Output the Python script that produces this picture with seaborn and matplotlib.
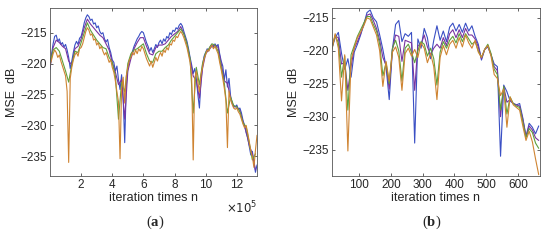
import numpy as np
import matplotlib
matplotlib.use("Agg")
import matplotlib.pyplot as plt
import seaborn as sns

# ── Data ─────────────────────────────────────────────────────────────────────
# panel (a): iteration times in units of 1e5
x_a_fine = np.round(np.arange(0, 13.35, 0.1), 1)
x_a_coarse = np.round(np.arange(0, 13.25, 0.2), 1)

blue_a = [
    -221.0, -218.5, -216.8, -215.6, -215.4, -216.4, -216.0, -216.9, -216.6, -217.3,
    -216.9, -217.8, -219.0, -220.8, -219.6, -218.2, -217.0, -216.4, -216.9, -215.9,
    -215.6, -214.6, -213.4, -212.6, -212.1, -212.4, -213.0, -212.8, -213.6, -213.4,
    -214.2, -213.9, -214.8, -215.2, -215.0, -216.0, -216.5, -216.1, -217.4, -218.2,
    -219.4, -219.8, -221.2, -220.4, -222.6, -224.2, -221.8, -225.5, -232.8, -223.6,
    -220.8, -219.6, -218.8, -218.0, -217.2, -216.6, -216.0, -215.6, -215.1, -214.8,
    -215.0, -215.8, -216.6, -217.2, -218.0, -217.4, -218.2, -217.6, -216.9, -217.4,
    -216.6, -216.2, -216.8, -216.0, -216.4, -215.6, -215.9, -215.0, -215.3, -214.6,
    -214.8, -214.2, -214.4, -213.8, -213.5, -213.9, -214.8, -215.6, -216.4, -217.6,
    -219.0, -220.2, -221.6, -220.8, -222.4, -225.0, -227.2, -222.8, -220.2, -218.8,
    -218.2, -217.6, -217.9, -217.2, -216.9, -217.4, -216.8, -217.2, -216.9, -218.4,
    -219.6, -220.4, -222.6, -221.0, -223.8, -222.4, -225.2, -226.4, -226.8, -227.0,
    -226.7, -227.4, -227.2, -228.0, -229.2, -230.0, -231.2, -232.0, -233.4, -234.8,
    -234.2, -236.0, -237.6, -236.4,
]
orange_a = [
    -220.2, -219.4, -218.4, -217.8, -218.2, -219.0, -218.6, -219.6, -220.4, -221.2,
    -222.0, -224.5, -236.0, -222.4, -220.6, -219.4, -218.6, -218.2, -218.8, -217.6,
    -217.4, -216.8, -215.8, -214.8, -214.2, -214.6, -215.4, -215.2, -216.2, -216.0,
    -217.0, -216.6, -217.6, -217.2, -218.0, -218.6, -218.2, -219.0, -219.8, -219.4,
    -220.6, -221.4, -222.8, -224.6, -226.2, -235.4, -224.0, -222.2, -226.4, -222.0,
    -220.6, -219.4, -219.0, -218.2, -218.6, -217.8, -218.4, -217.6, -218.0, -217.2,
    -217.6, -218.4, -219.2, -219.8, -220.4, -219.6, -220.6, -219.8, -219.0, -219.6,
    -218.8, -218.2, -218.8, -217.8, -218.2, -217.4, -217.8, -216.8, -217.0, -216.2,
    -216.4, -215.6, -215.8, -215.2, -214.8, -215.2, -215.8, -216.6, -217.4, -218.6,
    -219.8, -222.0, -235.6, -222.4, -221.2, -223.0, -224.6, -221.8, -220.6, -219.2,
    -218.6, -217.8, -218.0, -217.4, -217.0, -217.6, -217.2, -217.8, -218.4, -219.8,
    -221.0, -222.4, -224.0, -226.0, -233.6, -224.4, -225.8, -226.6, -227.2, -227.4,
    -227.2, -227.8, -228.2, -229.0, -229.8, -230.4, -230.0, -231.2, -232.6, -234.2,
    -235.0, -236.8, -234.0, -231.6,
]
green_a = [
    -220.0, -217.8, -217.4, -218.0, -219.6, -221.2, -223.0, -220.2, -218.0, -218.2,
    -216.6, -215.0, -213.4, -214.6, -215.4, -216.2, -216.8, -217.4, -217.6, -219.0,
    -219.8, -222.0, -229.0, -223.0, -224.6, -220.0, -218.4, -217.8, -217.6, -217.2,
    -216.8, -218.4, -219.6, -219.8, -218.4, -218.0, -218.0, -217.4, -217.0, -216.2,
    -215.6, -215.0, -214.4, -215.2, -216.8, -219.2, -228.0, -220.6, -223.4, -220.0,
    -218.2, -217.6, -216.8, -217.0, -218.0, -220.6, -223.2, -228.0, -225.4, -226.8,
    -227.0, -227.8, -229.6, -230.2, -232.8, -235.6, -234.6,
]
purple_a = [
    -220.6, -217.4, -216.2, -216.6, -217.2, -217.6, -219.6, -220.2, -217.6, -217.2,
    -216.0, -214.2, -212.8, -213.6, -214.2, -214.8, -215.4, -215.8, -216.8, -217.8,
    -219.8, -221.4, -223.4, -222.6, -229.0, -221.2, -219.2, -217.6, -216.6, -215.8,
    -215.8, -217.2, -218.4, -218.6, -217.4, -217.0, -217.0, -216.8, -216.2, -215.6,
    -215.2, -214.8, -214.0, -215.2, -216.8, -219.4, -222.0, -222.8, -225.6, -220.8,
    -218.4, -217.8, -217.2, -217.0, -217.4, -220.0, -222.8, -223.2, -225.6, -227.0,
    -227.0, -227.6, -229.4, -231.0, -233.2, -234.6, -237.2,
]

# panel (b): iteration times n
x_b = np.arange(15, 670, 10)

blue_b = [
    -219.6, -218.0, -217.2, -220.4, -222.8, -221.2, -224.0, -220.2, -219.0, -217.6,
    -216.0, -214.2, -213.8, -215.0, -215.6, -217.6, -219.8, -222.4, -227.4, -219.8,
    -216.0, -215.4, -218.6, -217.4, -217.8, -217.2, -234.0, -218.2, -219.6, -216.6,
    -218.0, -221.2, -218.4, -216.2, -218.4, -217.0, -218.6, -216.4, -215.8, -217.0,
    -216.0, -217.2, -215.8, -217.0, -216.2, -217.8, -219.0, -221.4, -219.8, -219.4,
    -220.6, -222.0, -222.4, -236.0, -225.2, -226.2, -227.6, -228.0, -228.2, -228.0,
    -230.2, -233.0, -231.0, -231.6, -232.6, -231.4,
]
orange_b = [
    -219.8, -217.4, -219.6, -227.6, -220.6, -235.2, -221.4, -219.6, -218.0, -217.2,
    -216.2, -215.0, -215.2, -216.4, -217.6, -220.0, -225.4, -221.6, -224.6, -220.2,
    -219.4, -221.0, -226.0, -220.4, -219.6, -220.8, -219.8, -221.0, -218.8, -219.6,
    -221.8, -220.4, -222.4, -227.4, -221.0, -219.2, -220.6, -219.0, -218.4, -219.6,
    -218.0, -219.4, -217.6, -218.8, -219.6, -218.4, -220.2, -221.0, -219.8, -219.2,
    -220.8, -223.6, -224.2, -226.8, -225.8, -231.6, -227.0, -228.2, -228.6, -229.0,
    -231.4, -233.6, -232.2, -233.8, -236.4, -238.8,
]
green_b = [
    -219.6, -217.6, -218.8, -224.0, -220.8, -229.0, -220.6, -219.2, -217.8, -216.8,
    -215.8, -214.8, -214.8, -216.0, -217.0, -219.0, -223.8, -221.8, -225.0, -219.6,
    -218.4, -220.0, -224.6, -219.6, -219.0, -220.2, -221.8, -220.0, -218.6, -219.0,
    -220.8, -219.6, -221.2, -225.2, -220.2, -218.6, -219.6, -218.4, -217.8, -218.8,
    -217.4, -218.6, -217.4, -218.2, -219.0, -218.6, -220.0, -221.0, -219.8, -219.0,
    -220.4, -222.8, -223.6, -229.0, -225.4, -229.6, -227.0, -228.0, -228.4, -228.6,
    -230.8, -233.2, -231.8, -232.4, -234.0, -234.8,
]
purple_b = [
    -219.4, -217.8, -218.0, -222.0, -221.8, -226.0, -222.4, -219.6, -218.6, -217.4,
    -216.0, -214.6, -214.4, -215.4, -216.6, -218.4, -221.0, -222.2, -225.8, -219.8,
    -217.6, -217.8, -221.6, -218.4, -218.6, -218.8, -226.0, -219.2, -219.0, -217.6,
    -219.4, -220.6, -219.6, -219.0, -219.6, -218.0, -219.2, -217.4, -216.8, -218.0,
    -216.8, -218.0, -216.6, -217.6, -217.6, -218.2, -219.4, -221.2, -219.8, -219.2,
    -220.6, -222.4, -223.0, -230.0, -225.4, -227.8, -227.4, -228.0, -228.2, -228.4,
    -230.4, -233.0, -231.4, -232.0, -233.2, -233.6,
]

xticks_a = [2, 4, 6, 8, 10, 12]
xticks_b = [100, 200, 300, 400, 500, 600]
yticks = [-235, -230, -225, -220, -215]

# ── Style ────────────────────────────────────────────────────────────────────
sns.set_theme(style="white")
plt.rcParams["font.family"] = ["Liberation Sans", "DejaVu Sans"]
plt.rcParams["mathtext.fontset"] = "custom"
plt.rcParams["mathtext.rm"] = "Liberation Serif"
plt.rcParams["mathtext.bf"] = "Liberation Serif:bold"

COLORS = {"blue": "#3a4fc4", "purple": "#7a34a0", "green": "#5fa03c", "orange": "#cf8432"}
LW = 0.8

fig = plt.figure(figsize=(5.5, 2.43), dpi=100)
ax_a = fig.add_axes([0.0909, 0.2757, 0.3764, 0.6914])
ax_b = fig.add_axes([0.6036, 0.2757, 0.3782, 0.6914])

# panel (a)
sns.lineplot(x=x_a_fine, y=blue_a, ax=ax_a, color=COLORS["blue"], lw=LW, sort=False)
sns.lineplot(x=x_a_coarse, y=purple_a, ax=ax_a, color=COLORS["purple"], lw=LW, sort=False)
sns.lineplot(x=x_a_coarse, y=green_a, ax=ax_a, color=COLORS["green"], lw=LW, sort=False)
sns.lineplot(x=x_a_fine, y=orange_a, ax=ax_a, color=COLORS["orange"], lw=LW, sort=False)
ax_a.set_xlim(0, 13.3)
ax_a.set_ylim(-238.2, -211.0)
ax_a.set_xticks(xticks_a)

# panel (b)
sns.lineplot(x=x_b, y=blue_b, ax=ax_b, color=COLORS["blue"], lw=LW, sort=False)
sns.lineplot(x=x_b, y=purple_b, ax=ax_b, color=COLORS["purple"], lw=LW, sort=False)
sns.lineplot(x=x_b, y=green_b, ax=ax_b, color=COLORS["green"], lw=LW, sort=False)
sns.lineplot(x=x_b, y=orange_b, ax=ax_b, color=COLORS["orange"], lw=LW, sort=False)
ax_b.set_xlim(15, 669)
ax_b.set_ylim(-239.0, -213.5)
ax_b.set_xticks(xticks_b)

for ax in (ax_a, ax_b):
    ax.set_yticks(yticks)
    ax.set_xlabel("iteration times n", fontsize=9, color="#262626", labelpad=1)
    ax.set_ylabel("MSE  dB", fontsize=9, color="#262626", labelpad=2)
    ax.tick_params(axis="both", direction="in", length=2.5, width=0.5,
                   labelsize=8.5, colors="#262626", pad=2,
                   top=True, right=True, bottom=True, left=True)
    for sp in ax.spines.values():
        sp.set_color("#555555")
        sp.set_linewidth(0.6)

ax_a.text(1.0, -0.14, r"$\times10^5$", transform=ax_a.transAxes,
          ha="right", va="top", fontsize=8.5, color="#262626",
          math_fontfamily="dejavusans")

fig.text(155 / 550, 1 - 222 / 243, r"$(\mathbf{a})$", ha="center", va="center", fontsize=10.5)
fig.text(432 / 550, 1 - 222 / 243, r"$(\mathbf{b})$", ha="center", va="center", fontsize=10.5)

fig.savefig("out.png", dpi=100)
